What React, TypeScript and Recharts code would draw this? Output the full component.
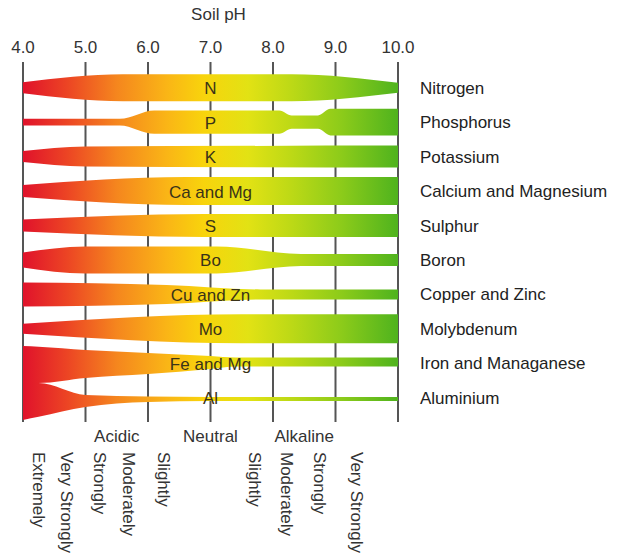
import React from 'react';
import { ComposedChart, Area, Scatter, XAxis, YAxis, CartesianGrid } from 'recharts';

// each profile point: [pH, availability above the row centre, availability below]
type Profile = number[][];

const phTicks = [4, 5, 6, 7, 8, 9, 10];

const nutrientNames = [
  'Nitrogen',
  'Phosphorus',
  'Potassium',
  'Calcium and Magnesium',
  'Sulphur',
  'Boron',
  'Copper and Zinc',
  'Molybdenum',
  'Iron and Managanese',
  'Aluminium',
];

const nutrientSymbols = ['N', 'P', 'K', 'Ca and Mg', 'S', 'Bo', 'Cu and Zn', 'Mo', 'Fe and Mg', 'Al'];

const nitrogen: Profile = [[4, 5.5], [5.6, 13.5], [8.3, 13.5], [10, 5]];
const phosphorus: Profile = [
  [4, 3.4], [5.55, 3.4], [6.1, 11.7], [8.1, 11.7], [8.3, 6.7], [8.72, 6.7], [8.92, 13.3], [10, 13.3],
];
const potassium: Profile = [[4, 5.5], [5.0, 10], [10, 11]];
const calciumMagnesium: Profile = [[4, 6], [6.6, 14], [10, 14]];
const sulphur: Profile = [[4, 6], [6.9, 11.5], [10, 11.5]];
const boron: Profile = [[4, 7.5], [5.0, 13.5], [7.1, 13.5], [8.45, 6], [10, 6]];
const copperZinc: Profile = [[4, 12], [6.3, 9.5], [7.8, 5], [10, 5]];
const molybdenum: Profile = [[4, 5], [7.5, 14.5], [10, 14.5]];
const ironManganese: Profile = [
  [4, 17.3, 19.7], [4.25, 16.6, 19.7], [5, 13.3, 14.7], [6, 10.3, 10.7], [7, 7.3, 5.7], [7.4, 5.8, 3.2], [10, 5.8, 3.2],
];
const aluminium: Profile = [
  [4, 14.8, 22.2], [4.25, 14.8, 19], [5, 2.8, 9.2], [6, 1.3, 4.2], [7, 0.8, 3.2], [10, 0.8, 3.2],
];

const profiles = [
  nitrogen, phosphorus, potassium, calciumMagnesium, sulphur,
  boron, copperZinc, molybdenum, ironManganese, aluminium,
];

const soilClasses = ['Acidic', 'Neutral', 'Alkaline'];
const soilClassPh = [5.5, 7, 8.5];

const degreeNames = [
  'Extremely', 'Very Strongly', 'Strongly', 'Moderately', 'Slightly',
  'Slightly', 'Moderately', 'Strongly', 'Very Strongly',
];
const degreePh = [4.25, 4.7, 5.23, 5.69, 6.25, 7.71, 8.22, 8.75, 9.34];

const gradientPh = [4, 4.7, 5.5, 6.3, 6.9, 7.6, 8.3, 9.1, 10];
const gradientColors = ['#e0122b', '#ec4424', '#f5861e', '#fab516', '#f8d40c', '#e2e214', '#bcd916', '#8ccb1a', '#4fb31e'];

const FONT = '"Liberation Sans", Arial, Helvetica, sans-serif';
const ROW_UNIT = 34.45; // availability units per row

const bandData = profiles.map((p, i) =>
  p.map(([ph, up, dn]) => ({
    ph,
    range: [i - up / ROW_UNIT, i + (dn ?? up) / ROW_UNIT],
  }))
);

const symbolData = nutrientSymbols.map((text, i) => ({ ph: 7, row: i, text }));
// anchors so the two bottom label axes have data of their own
const classAnchors = soilClassPh.map((ph) => ({ ph, row: 0 }));
const degreeAnchors = degreePh.map((ph) => ({ ph, row: 0 }));

const DegreeTick = (props: any) => {
  const { x, y, payload } = props;
  const idx = degreePh.indexOf(payload.value);
  return (
    <text
      x={x}
      y={y}
      transform={`rotate(90 ${x} ${y})`}
      textAnchor='start'
      dominantBaseline='central'
      fontSize={17}
      fontFamily={FONT}
      fill='#333'
    >
      {degreeNames[idx]}
    </text>
  );
};

const SymbolLabel = (props: any) => (
  <text
    x={props.cx}
    y={props.cy}
    dy={1}
    textAnchor='middle'
    dominantBaseline='central'
    fontSize={17}
    fontFamily={FONT}
    fill='#3a3318'
  >
    {props.payload.text}
  </text>
);

const Nothing = () => <g />;

export default function App() {
  return (
    <div style={{ position: 'absolute', left: 0, top: 0, background: '#fff' }}>
      <ComposedChart width={620} height={559} margin={{ top: 42, right: 0, bottom: 0, left: 23 }}>
        <defs>
          <linearGradient id='soilGrad' x1='0' y1='0' x2='1' y2='0'>
            {gradientPh.map((ph, i) => (
              <stop key={ph} offset={(ph - 4) / 6} stopColor={gradientColors[i]} />
            ))}
          </linearGradient>
        </defs>
        <CartesianGrid horizontal={false} stroke='#555' strokeWidth={2} />
        <XAxis
          dataKey='ph'
          type='number'
          orientation='top'
          domain={[4, 10]}
          ticks={phTicks}
          interval={0}
          height={20}
          axisLine={false}
          tickLine={false}
          tickSize={6}
          tickMargin={3}
          tickFormatter={(v: number) => v.toFixed(1)}
          tick={{ fontSize: 17, fill: '#333', fontFamily: FONT }}
          label={{ value: 'Soil pH', position: 'top', offset: 22, dx: 8, fontSize: 17, fill: '#333', fontFamily: FONT }}
        />
        <XAxis
          xAxisId='cls'
          dataKey='ph'
          type='number'
          orientation='bottom'
          domain={[4, 10]}
          ticks={soilClassPh}
          interval={0}
          height={25}
          axisLine={false}
          tickLine={false}
          tickSize={4}
          tickMargin={4}
          tickFormatter={(v: number) => soilClasses[soilClassPh.indexOf(v)]}
          tick={{ fontSize: 17, fill: '#333', fontFamily: FONT }}
        />
        <XAxis
          xAxisId='deg'
          dataKey='ph'
          type='number'
          orientation='bottom'
          domain={[4, 10]}
          ticks={degreePh}
          interval={0}
          height={112}
          axisLine={false}
          tickLine={false}
          tickSize={0}
          tickMargin={5}
          tick={<DegreeTick />}
        />
        <YAxis
          type='number'
          orientation='right'
          domain={[-0.746, 9.704]}
          reversed
          ticks={nutrientNames.map((_, i) => i)}
          interval={0}
          width={222}
          axisLine={false}
          tickLine={false}
          tickSize={6}
          tickMargin={16}
          tickFormatter={(v: number) => nutrientNames[v]}
          tick={{ fontSize: 17, fill: '#222', fontFamily: FONT, textAnchor: 'start' }}
        />
        {bandData.map((d, i) => (
          <Area
            key={nutrientNames[i]}
            data={d}
            dataKey='range'
            type='monotoneX'
            stroke='none'
            fill='url(#soilGrad)'
            fillOpacity={1}
            isAnimationActive={false}
            activeDot={false}
            dot={false}
          />
        ))}
        <Scatter data={symbolData} dataKey='row' shape={SymbolLabel} isAnimationActive={false} />
        <Scatter xAxisId='cls' data={classAnchors} dataKey='row' shape={Nothing} isAnimationActive={false} />
        <Scatter xAxisId='deg' data={degreeAnchors} dataKey='row' shape={Nothing} isAnimationActive={false} />
      </ComposedChart>
    </div>
  );
}
